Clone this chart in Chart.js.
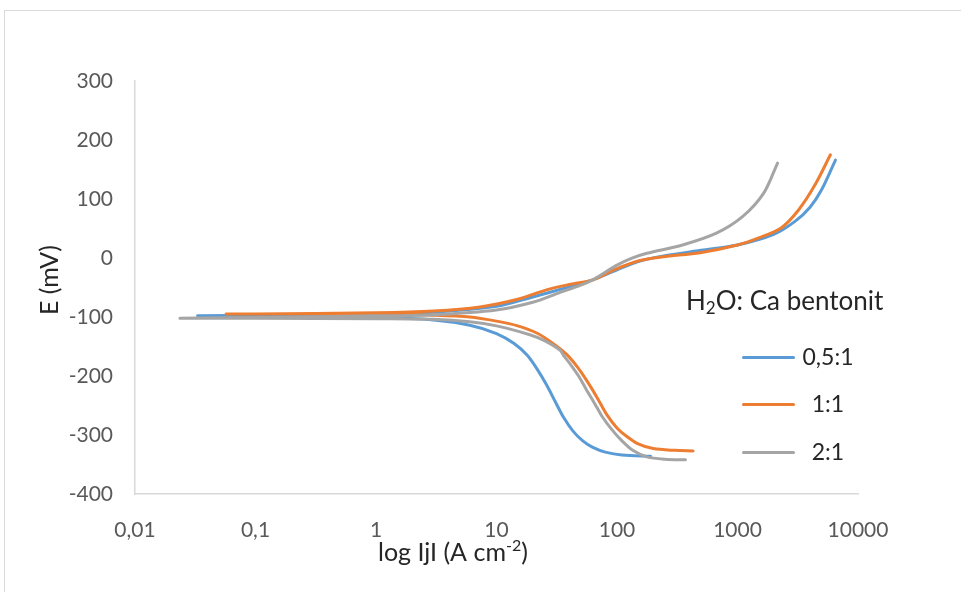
<!DOCTYPE html>
<html>
<head>
<meta charset="utf-8">
<script src="https://cdn.jsdelivr.net/npm/chart.js@4.4.1/dist/chart.umd.min.js"></script>
<style>
  body { margin: 0; background: #fff; font-family: Lato, sans-serif; }
  #wrap { position: relative; width: 961px; height: 592px; overflow: hidden; }
  #frame { position: absolute; left: 4px; top: 10px; width: 1200px; height: 900px; border: 1px solid #d9d9d9; }
  #chart { position: absolute; left: 0; top: 0; }
  #legend { position: absolute; left: 0; top: 0; width: 961px; height: 592px; pointer-events: none; color: #262626; }
  #legend .ttl { position: absolute; left: 686px; top: 284px; font-size: 26px; white-space: nowrap; }
  #legend .ttl sub { font-size: 17px; vertical-align: -4px; line-height: 0; }
  #legend .item { position: absolute; left: 742px; height: 30px; width: 170px; }
  #legend .item i { position: absolute; left: 0; top: 14px; width: 53px; height: 3px; border-radius: 2px; }
  #legend .item span { position: absolute; left: 54px; width: 64px; top: 0; text-align: center; font-size: 23px; }
</style>
</head>
<body>
<div id="wrap">
  <div id="frame"></div>
  <canvas id="chart" width="961" height="592"></canvas>
  <div id="legend"></div>
</div>
<script>
// current density (A cm-2) and potential (mV); each curve runs cathodic end -> Ecorr -> anodic end
const blueX = [190, 110, 80, 63, 52, 43, 36, 31, 26, 22, 18, 14, 10, 6, 3, 1, 0.1, 0.033,
  0.1, 1, 3, 10, 20, 40, 63, 100, 150, 250, 500, 1000, 2000, 3000, 4000, 5000, 6500];
const blueY = [-336, -334, -329, -321, -310, -293, -270, -245, -215, -190, -165, -145, -128, -114, -105, -101, -99, -98,
  -97, -95, -92, -82, -66, -49, -37, -20, -6, 4, 13, 22, 40, 62, 86, 116, 166];

const orangeX = [428, 300, 200, 150, 120, 100, 82, 69, 57, 47, 38, 30, 22, 15, 10, 6, 3, 1, 0.1, 0.057,
  0.1, 1, 3, 7.3, 15, 26, 40, 63, 100, 150, 240, 490, 1000, 1500, 2300, 3200, 4400, 5900];
const orangeY = [-327, -326, -323, -315, -302, -288, -265, -238, -210, -185, -163, -146, -128, -115, -107, -100, -97, -95, -95, -95,
  -95, -93, -90, -83, -70, -54, -45, -37, -18, -5, 2, 9, 22, 34, 51, 81, 124, 175];

const grayX = [370, 250, 177, 135, 110, 90, 76, 65, 56, 48, 41, 36, 33.6, 25, 18.9, 10, 6, 3, 1, 0.1, 0.0236,
  0.1, 1, 3, 10, 20, 33, 50, 63, 80, 100, 130, 177, 350, 668, 1100, 1650, 2150];
const grayY = [-342, -341, -337, -326, -310, -290, -270, -246, -224, -200, -180, -165, -156, -140, -130, -115, -108, -104, -103, -102, -102,
  -101, -98, -96, -88, -75, -59, -46, -37, -24, -12, -1, 8, 22, 42, 70, 110, 161];

const seriesNames = ['0,5:1', '1:1', '2:1'];
const seriesColors = ['#5B9BD5', '#ED7D31', '#A5A5A5'];
const xTicks = [0.01, 0.1, 1, 10, 100, 1000, 10000];
const yMin = -400, yMax = 300, yStep = 100;

const pts = (xs, ys) => xs.map((x, i) => ({ x: x, y: ys[i] }));
const seriesData = [pts(blueX, blueY), pts(orangeX, orangeY), pts(grayX, grayY)];

const tickFont = { family: 'Lato', size: 21 };

// axis titles drawn by hand so the superscript and Excel's placement can be kept
const axisTitles = {
  id: 'axisTitles',
  afterDraw(chart) {
    const ctx = chart.ctx;
    ctx.save();
    ctx.fillStyle = '#262626';
    ctx.textBaseline = 'alphabetic';
    ctx.textAlign = 'left';
    ctx.font = '25px Lato';
    let x = 378;
    const base = 561;
    const a = 'log IjI (A cm';
    ctx.fillText(a, x, base);
    x += ctx.measureText(a).width;
    ctx.font = '16px Lato';
    ctx.fillText('-2', x, base - 10);
    x += ctx.measureText('-2').width;
    ctx.font = '25px Lato';
    ctx.fillText(')', x, base);

    ctx.translate(50, 280);
    ctx.rotate(-Math.PI / 2);
    ctx.textAlign = 'center';
    ctx.textBaseline = 'middle';
    ctx.fillText('E (mV)', 0, 0);
    ctx.restore();
  }
};

const chart = new Chart(document.getElementById('chart'), {
  type: 'scatter',
  data: {
    datasets: seriesData.map((d, i) => ({
      label: seriesNames[i],
      data: d,
      showLine: true,
      borderColor: seriesColors[i],
      backgroundColor: seriesColors[i],
      borderWidth: 3,
      borderCapStyle: 'round',
      borderJoinStyle: 'round',
      pointRadius: 0,
      tension: 0.3,
      order: 3 - i // gray on top, like Excel
    }))
  },
  options: {
    responsive: false,
    animation: false,
    layout: { padding: { left: 30, top: 81, right: 103, bottom: 27 } },
    scales: {
      x: {
        type: 'logarithmic',
        min: 0.01,
        max: 10000,
        grid: { display: false, drawTicks: false },
        border: { color: '#d9d9d9', width: 1.5 },
        afterBuildTicks: (s) => { s.ticks = xTicks.map(v => ({ value: v })); },
        afterFit: (s) => { s.height = 71; },
        ticks: {
          color: '#595959',
          font: tickFont,
          padding: 24,
          maxRotation: 0,
          autoSkip: false,
          callback: (v) => String(v).replace('.', ',')
        }
      },
      y: {
        min: yMin,
        max: yMax,
        grid: { display: false, drawTicks: false },
        border: { color: '#d9d9d9', width: 1.5 },
        afterFit: (s) => { s.width = 105; },
        ticks: {
          stepSize: yStep,
          color: '#595959',
          font: tickFont,
          padding: 22
        }
      }
    },
    plugins: {
      legend: { display: false },
      tooltip: { enabled: false }
    }
  },
  plugins: [axisTitles]
});

// legend overlay, same spot as Excel's
const legend = document.getElementById('legend');
legend.innerHTML = '<div class="ttl">H<sub>2</sub>O: Ca bentonit</div>';
const itemY = [342, 389, 437];
seriesNames.forEach((name, i) => {
  const el = document.createElement('div');
  el.className = 'item';
  el.style.top = itemY[i] + 'px';
  el.innerHTML = '<i style="background:' + seriesColors[i] + '"></i><span>' + name + '</span>';
  legend.appendChild(el);
});
</script>
</body>
</html>
